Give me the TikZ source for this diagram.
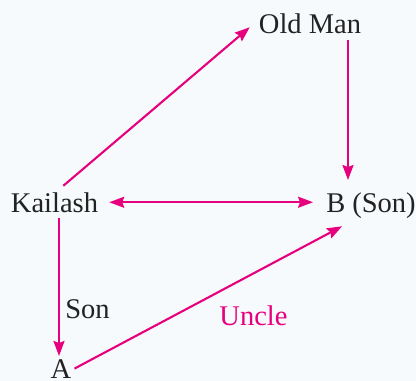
\documentclass[tikz,border=0pt]{standalone}
\usepackage{fontspec}
\setmainfont{Liberation Serif}
\usetikzlibrary{arrows.meta, calc}
\definecolor{relmagenta}{RGB}{230,0,126}
\definecolor{bgtint}{RGB}{247,250,252}
\definecolor{textgray}{RGB}{34,34,34}

\begin{document}
\begin{tikzpicture}[
  x=1pt, y=-1pt,
  person/.style={inner sep=3pt, anchor=base, text=textgray, font=\fontsize{28.5}{34}\selectfont},
  rel/.style={inner sep=3pt, anchor=base, font=\fontsize{28.5}{34}\selectfont},
  >={Stealth[length=15pt, width=11pt, inset=2pt]},
  arrow/.style={->, line width=2.1pt, relmagenta},
]
\fill[bgtint] (0,0) rectangle (416,381);
\useasboundingbox (0,0) rectangle (416,381);
\node[person] (oldman) at (310,33) {Old Man};
\node[person] (kailash) at (54.5,212) {Kailash};
\node[person] (bson) at (371,212) {B (Son)};
\node[person] (a) at (61,378) {A};
\node[rel, text=textgray] (son) at (87.5,318) {Son};
\node[rel, text=relmagenta] (uncle) at (253.5,325) {Uncle};
\draw[arrow, shorten <=5pt] ([xshift=5pt]kailash.north) -- ($(oldman.west)+(-6,4)$);
\draw[arrow, shorten <=4pt, shorten >=9pt] ([xshift=38pt]oldman.south) -- ([xshift=38pt]oldman.south |- bson.north);
\draw[arrow, <->, shorten <=8pt, shorten >=10pt] (kailash.east) -- (kailash.east -| bson.west);
\draw[arrow, shorten <=3pt] ([xshift=4.5pt]kailash.south) -- ([xshift=4.5pt]kailash.south |- a.north);
\draw[arrow] (a.east) -- ($(bson.south west)+(19,5)$);
\end{tikzpicture}
\end{document}
